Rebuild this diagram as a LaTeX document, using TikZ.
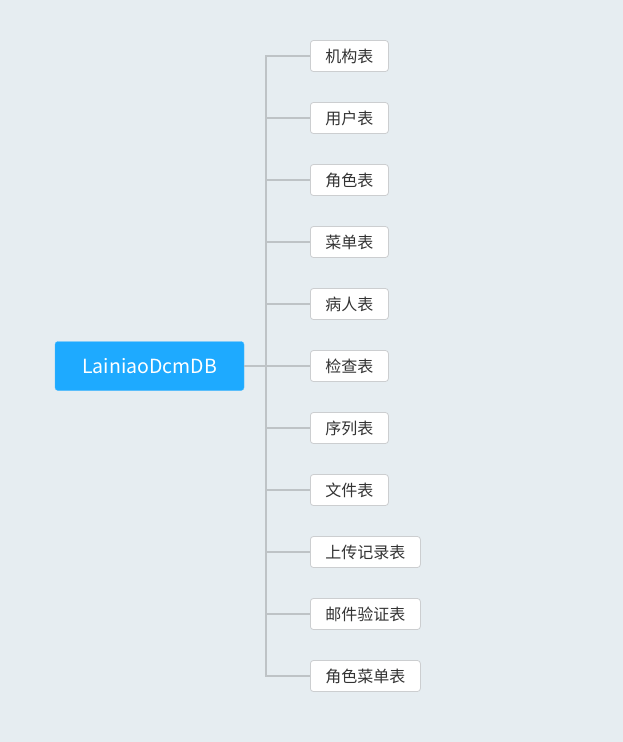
\documentclass[tikz,border=0pt]{standalone}
\usepackage{fontspec}
\setmainfont{Noto Sans CJK SC}
\definecolor{bg}{RGB}{230,237,241}
\definecolor{rootblue}{RGB}{30,170,255}
\definecolor{linegray}{RGB}{190,195,198}
\definecolor{boxborder}{RGB}{204,206,208}
\definecolor{txt}{RGB}{51,51,51}
\begin{document}
\begin{tikzpicture}[x=1pt,y=1pt,
  rootbox/.style={fill=rootblue,draw=rootblue!80!white,rounded corners=3pt,text=white,
    minimum width=189pt,minimum height=49pt,font=\fontsize{19.5}{22}\selectfont,inner sep=0pt},
  leaf/.style={fill=white,draw=boxborder,line width=0.8pt,rounded corners=3pt,text=txt,
    minimum height=31pt,inner xsep=15pt,inner ysep=0pt,anchor=west,
    font=\fontsize{16}{19}\selectfont},
  conn/.style={draw=linegray,line width=1.8pt}]
\fill[bg] (0,0) rectangle (623,-742);
\useasboundingbox (0,0) rectangle (623,-742);
\node[rootbox] (root) at (149.5,-366) {LainiaoDcmDB};
\coordinate (j) at (266,-366);
\node[leaf] (c1) at (310,-56) {机构表};
\node[leaf] (c2) at (310,-118) {用户表};
\node[leaf] (c3) at (310,-180) {角色表};
\node[leaf] (c4) at (310,-242) {菜单表};
\node[leaf] (c5) at (310,-304) {病人表};
\node[leaf] (c6) at (310,-366) {检查表};
\node[leaf] (c7) at (310,-428) {序列表};
\node[leaf] (c8) at (310,-490) {文件表};
\node[leaf] (c9) at (310,-552) {上传记录表};
\node[leaf] (c10) at (310,-614) {邮件验证表};
\node[leaf] (c11) at (310,-676) {角色菜单表};
\path[conn] (root.east) -- (j);
\path[conn] (c1.west) -- (c1.west -| j) -- (c11.west -| j) -- (c11.west);
\foreach \n in {c2,c3,c4,c5,c6,c7,c8,c9,c10}
  \path[conn] (\n.west -| j) -- (\n.west);
\end{tikzpicture}
\end{document}
